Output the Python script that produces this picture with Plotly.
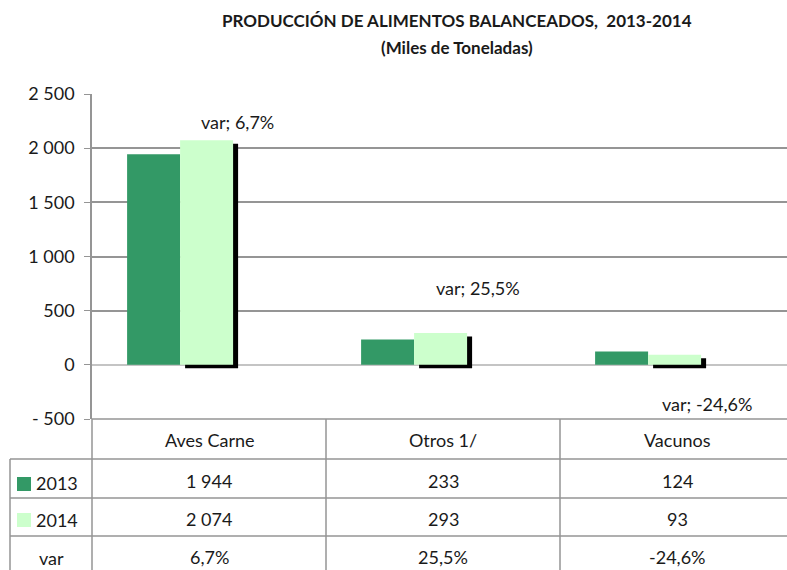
import plotly.graph_objects as go

categories = ["Aves Carne", "Otros 1/", "Vacunos"]
values_2013 = [1944, 233, 124]
values_2014 = [2074, 293, 93]
var_pct = [6.7, 25.5, -24.6]
tick_vals = [-500, 0, 500, 1000, 1500, 2000, 2500]
tick_text = ["- 500", "0", "500", "1 000", "1 500", "2 000", "2 500"]

# layout helpers (pixel geometry of the figure)
W, H = 787, 570
L, T, B = 92, 94, 419
plot_w = W - L
plot_h = B - T
CAT_PX = 234.0
x_lo = -0.5
x_hi = x_lo + plot_w / CAT_PX
def px(p):
    return (p - L) / plot_w
def py(p):
    return (B - p) / plot_h
def xdata_to_paper(v):
    return (v - x_lo) / (x_hi - x_lo)

FONT = "Lato"
C13 = "#339966"
C14 = "#CCFFCC"
GRID = "#959595"
TXT = "#1a1a1a"
FS = 18

bar_w = 53 / CAT_PX
off13 = -0.35
off14 = off13 + bar_w
shadow_dx = 5 / CAT_PX
shadow_dy = 3.5 * 3000 / plot_h

xs = list(range(len(categories)))

fig = go.Figure()
fig.add_trace(go.Bar(x=xs, y=values_2013, width=bar_w, offset=off13,
                     marker=dict(color=C13, line=dict(width=0)), name="2013"))
fig.add_trace(go.Bar(x=xs, y=values_2014, base=-shadow_dy, width=bar_w,
                     offset=off14 + shadow_dx,
                     marker=dict(color="black", line=dict(width=0)), name="shadow"))
fig.add_trace(go.Bar(x=xs, y=values_2014, width=bar_w, offset=off14,
                     marker=dict(color=C14, line=dict(width=0)), name="2014"))

annotations = []
shapes = []

# title
annotations.append(dict(text="<b>PRODUCCIÓN DE ALIMENTOS BALANCEADOS,  2013-2014</b>",
                        xref="paper", yref="paper", x=px(457), y=py(20),
                        showarrow=False, font=dict(family=FONT, size=17, color=TXT),
                        xanchor="center", yanchor="middle"))
annotations.append(dict(text="<b>(Miles de Toneladas)</b>",
                        xref="paper", yref="paper", x=px(457), y=py(47),
                        showarrow=False, font=dict(family=FONT, size=17, color=TXT),
                        xanchor="center", yanchor="middle"))

# var labels
var_label_y = [2240, 708, -359]
var_label_dx = [0.12, 0.15, 0.13]
for i, v in enumerate(var_pct):
    annotations.append(dict(text="var; " + f"{v:.1f}%".replace(".", ","),
                            xref="x", yref="y", x=i + var_label_dx[i], y=var_label_y[i],
                            showarrow=False, font=dict(family=FONT, size=FS, color=TXT),
                            xanchor="center", yanchor="middle"))

# data table
line = dict(color=GRID, width=1.5)
row_y = [419, 459, 498, 536, 575]
shapes.append(dict(type="line", xref="paper", yref="paper", x0=0, x1=1,
                   y0=py(row_y[0]), y1=py(row_y[0]), line=line))
for yy in row_y[1:4]:
    shapes.append(dict(type="line", xref="paper", yref="paper", x0=px(10), x1=1,
                       y0=py(yy), y1=py(yy), line=line))
shapes.append(dict(type="line", xref="paper", yref="paper", x0=px(10), x1=px(10),
                   y0=py(row_y[1]), y1=py(row_y[4]), line=line))
for k in range(len(categories)):
    xx = xdata_to_paper(k - 0.5)
    shapes.append(dict(type="line", xref="paper", yref="paper", x0=xx, x1=xx,
                       y0=py(row_y[0]), y1=py(row_y[4]), line=line))

def fmt_int(v):
    return f"{v:,}".replace(",", " ")

cell_font = dict(family=FONT, size=FS, color=TXT)
text_y = [440, 481, 519, 557]
for i, c in enumerate(categories):
    cx = xdata_to_paper(i)
    rows = [c, fmt_int(values_2013[i]), fmt_int(values_2014[i]),
            f"{var_pct[i]:.1f}%".replace(".", ",")]
    for r, t in enumerate(rows):
        annotations.append(dict(text=t, xref="paper", yref="paper", x=cx, y=py(text_y[r]),
                                showarrow=False, font=cell_font,
                                xanchor="center", yanchor="middle"))

# legend keys
for label, col, y0, y1, ty in [("2013", C13, 477, 491, 483), ("2014", C14, 513, 527, 520)]:
    shapes.append(dict(type="rect", xref="paper", yref="paper", x0=px(17), x1=px(31),
                       y0=py(y1), y1=py(y0), fillcolor=col, line=dict(width=0)))
    annotations.append(dict(text=label, xref="paper", yref="paper", x=px(34), y=py(ty),
                            showarrow=False, font=cell_font, xanchor="left", yanchor="middle"))
annotations.append(dict(text="var", xref="paper", yref="paper", x=px(51), y=py(558),
                        showarrow=False, font=cell_font, xanchor="center", yanchor="middle"))

fig.update_layout(
    width=W, height=H,
    margin=dict(l=L, r=0, t=T, b=H - B, pad=0),
    paper_bgcolor="white", plot_bgcolor="white",
    barmode="overlay", showlegend=False,
    annotations=annotations, shapes=shapes,
    font=dict(family=FONT, size=FS, color=TXT),
)
fig.update_xaxes(range=[x_lo, x_hi], showticklabels=False, showgrid=False,
                 zeroline=False, showline=False, ticks="", fixedrange=True)
fig.update_yaxes(range=[-500, 2500], tickvals=tick_vals, ticktext=tick_text,
                 showgrid=True, gridcolor=GRID, gridwidth=1.5,
                 zeroline=True, zerolinecolor="#c4c4c4", zerolinewidth=1.5,
                 showline=True, linecolor=GRID, linewidth=1.5,
                 ticks="outside", ticklen=6, tickcolor=GRID, ticklabelstandoff=6,
                 tickfont=dict(family=FONT, size=FS, color=TXT), fixedrange=True)

fig.write_html("out.html", config={"displayModeBar": False},
               post_script="document.body.style.margin='0';document.body.style.overflow='hidden';")
